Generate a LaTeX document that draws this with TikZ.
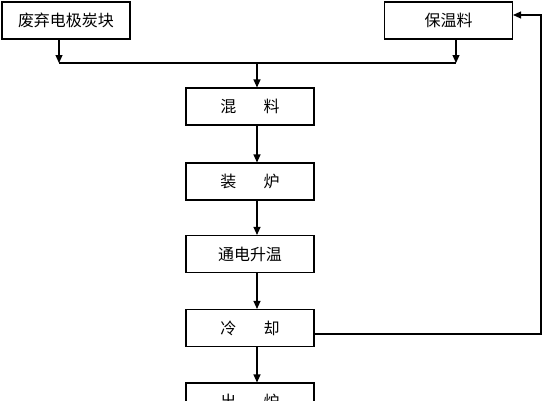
\documentclass[tikz,border=0pt]{standalone}
\usepackage{fontspec}
\newfontfamily\cjk{Noto Sans CJK SC}
\usetikzlibrary{arrows.meta, positioning, calc}

\begin{document}
\begin{tikzpicture}[
    x=1pt, y=-1pt,
    font=\cjk\fontsize{16}{18}\selectfont,
    >={Stealth[length=8pt, width=7pt, inset=0pt]},
    block/.style={
        draw=black,
        line width=1.1pt,
        fill=white,
        align=center,
        minimum width=128pt,
        minimum height=37pt,
        inner sep=2pt
    },
    arrow/.style={->, line width=1.2pt, color=black},
    line/.style={line width=1.2pt, color=black}
]

\useasboundingbox (0,0) rectangle (542,400);
\clip (0,0) rectangle (542,400);

% Raw materials
\node[block] (waste) at (66, 20.5) {废弃电极炭块};
\node[block] (keep) at (448.5, 20.5) {保温料};

% Main process
\node[block] (mix) at (250, 106.5) {混\hspace{1.7em}料};
\node[block] (load) at (250, 181.5) {装\hspace{1.7em}炉};
\node[block] (heat) at (250, 254) {通电升温};
\node[block] (cool) at (250, 328) {冷\hspace{1.7em}却};
\node[block] (out) at (250, 401.5) {出\hspace{1.7em}炉};

% Junctions
\coordinate (jl) at (59, 63);
\coordinate (jr) at (456, 63);
\coordinate (jm) at (257, 63);
\coordinate (fb) at (541, 334);
\coordinate (fbt) at (541, 15);

\draw[arrow] (waste.south -| jl) -- (jl);
\draw[arrow] (keep.south -| jr) -- (jr);
\draw[line] (jl) -- (jr);
\draw[arrow] (jm) -- (mix.north -| jm);

\draw[arrow] (mix.south -| jm) -- (load.north -| jm);
\draw[arrow] (load.south -| jm) -- (heat.north -| jm);
\draw[arrow] (heat.south -| jm) -- (cool.north -| jm);
\draw[arrow] (cool.south -| jm) -- (out.north -| jm);

% Recycling of insulation material
\draw[arrow] (cool.east |- fb) -- (fb) -- (fbt) -- (keep.east |- fbt);

\end{tikzpicture}
\end{document}
